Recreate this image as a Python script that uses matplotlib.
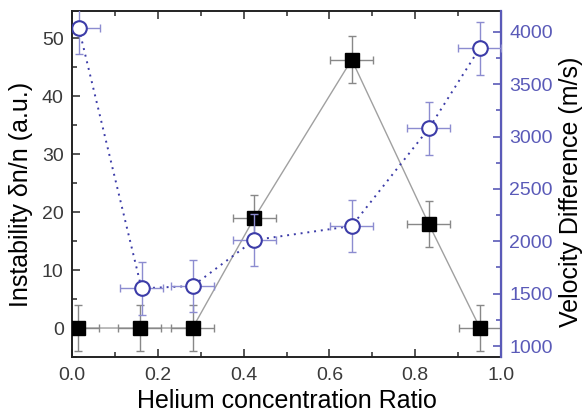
import matplotlib
matplotlib.use("Agg")
import matplotlib.pyplot as plt
from matplotlib.ticker import MultipleLocator

plt.rcParams['font.family'] = ['Liberation Sans', 'DejaVu Sans']

# Data
helium_sq = [0.014, 0.158, 0.281, 0.425, 0.652, 0.832, 0.951]
instability = [0, 0, 0, 19.0, 46.3, 17.9, 0]
instab_err = [4, 4, 4, 4, 4, 4, 4]
x_err_sq = [0.05, 0.05, 0.05, 0.05, 0.05, 0.05, 0.05]

helium_ci = [0.016, 0.162, 0.281, 0.425, 0.652, 0.832, 0.950]
velocity = [4035, 1551, 1573, 2012, 2146, 3079, 3843]
vel_err = [250, 250, 250, 250, 250, 250, 250]
x_err_ci = [0.05, 0.05, 0.05, 0.05, 0.05, 0.05, 0.05]

blue = '#3c3ca8'
blue_light = '#8c8cd0'
axis_blue = '#5a5ab8'
tick_gray = '#3a3a3a'

fig = plt.figure(figsize=(5.84, 4.16), dpi=100)
ax = fig.add_axes([0.1233, 0.1418, 0.7346, 0.8318])
ax2 = ax.twinx()

# Left: black squares
ax.plot(helium_sq, instability, '-', color='#a0a0a0', lw=1.0, zorder=2)
ax.errorbar(helium_sq, instability, yerr=instab_err, xerr=x_err_sq, fmt='none',
            ecolor='#888888', elinewidth=1.0, capsize=3, capthick=1.0, zorder=3)
ax.plot(helium_sq, instability, 's', color='black', ms=9.5, zorder=4)

# Right: open circles
ax2.plot(helium_ci, velocity, linestyle=(0, (1, 2.5)), color=blue, lw=1.4, zorder=2)
ax2.errorbar(helium_ci, velocity, yerr=vel_err, xerr=x_err_ci, fmt='none',
             ecolor=blue_light, elinewidth=1.0, capsize=3, capthick=1.0, zorder=3)
ax2.plot(helium_ci, velocity, 'o', mfc='white', mec=blue, mew=1.5, ms=10.5, zorder=4)

ax.set_xlim(0, 1.0)
ax.set_ylim(-5, 54.7)
ax2.set_ylim(895, 4200)

ax.xaxis.set_major_locator(MultipleLocator(0.2))
ax.xaxis.set_minor_locator(MultipleLocator(0.1))
ax.yaxis.set_major_locator(MultipleLocator(10))
ax.yaxis.set_minor_locator(MultipleLocator(5))
ax2.yaxis.set_major_locator(MultipleLocator(500))
ax2.yaxis.set_minor_locator(MultipleLocator(250))

ax.set_xticklabels([f'{v:.1f}' for v in ax.get_xticks()])

ax.tick_params(axis='x', which='both', direction='in', top=True, labelsize=14,
               colors=tick_gray, pad=7)
ax.tick_params(axis='x', which='major', length=6, width=1.2)
ax.tick_params(axis='x', which='minor', length=3.5, width=1.2)
ax.tick_params(axis='y', which='both', direction='in', labelsize=14, colors=tick_gray, pad=6)
ax.tick_params(axis='y', which='major', length=6, width=1.2)
ax.tick_params(axis='y', which='minor', length=3.5, width=1.2)

ax2.tick_params(axis='y', which='both', direction='in', labelsize=14, colors=axis_blue, pad=6)
ax2.tick_params(axis='y', which='major', length=6, width=1.2)
ax2.tick_params(axis='y', which='minor', length=3.5, width=1.2)

for s in ['left', 'top', 'bottom']:
    ax.spines[s].set_linewidth(1.4)
    ax.spines[s].set_color('#222222')
ax2.spines['right'].set_color(axis_blue)
ax2.spines['right'].set_linewidth(1.6)
for s in ['left', 'top', 'bottom']:
    ax2.spines[s].set_visible(False)

ax.set_xlabel('Helium concentration Ratio', fontsize=18, color='black', labelpad=4)
ax.set_ylabel('Instability δn/n (a.u.)', fontsize=18, color='black')
ax2.set_ylabel('Velocity Difference (m/s)', fontsize=18, color='black')
ax.yaxis.set_label_coords(-0.092, 0.471)
ax2.yaxis.set_label_coords(1.135, 0.478)

fig.savefig('out.png', dpi=100)
